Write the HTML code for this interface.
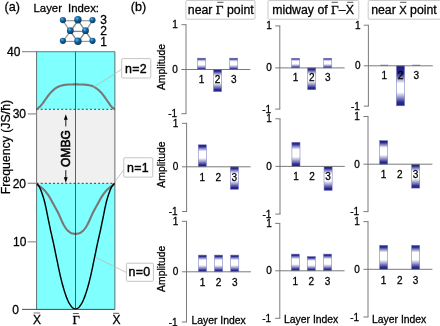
<!DOCTYPE html>
<html lang="en"><head><meta charset="utf-8"><title>Figure</title>
<style>html,body{margin:0;padding:0;background:#fff;}svg{display:block;}text{stroke:#000;stroke-width:0.28px;}</style></head><body>
<svg width="440" height="326" viewBox="0 0 440 326">
<defs>
<linearGradient id="bar" x1="0" y1="0" x2="0" y2="1"><stop offset="0" stop-color="#1c1c84"/><stop offset="0.08" stop-color="#2a2a90"/><stop offset="0.19" stop-color="#9898cc"/><stop offset="0.30" stop-color="#ffffff"/><stop offset="0.60" stop-color="#ffffff"/><stop offset="0.76" stop-color="#9898cc"/><stop offset="0.91" stop-color="#2a2a90"/><stop offset="1" stop-color="#1c1c84"/></linearGradient>
<linearGradient id="barS" x1="0" y1="0" x2="0" y2="1"><stop offset="0" stop-color="#24248a"/><stop offset="0.08" stop-color="#3a3a98"/><stop offset="0.2" stop-color="#c0c0e0"/><stop offset="0.32" stop-color="#ffffff"/><stop offset="0.58" stop-color="#ffffff"/><stop offset="0.8" stop-color="#8c8cc6"/><stop offset="0.94" stop-color="#2a2a90"/><stop offset="1" stop-color="#1c1c84"/></linearGradient>
<linearGradient id="barM" x1="0" y1="0" x2="0" y2="1"><stop offset="0" stop-color="#1c1c84"/><stop offset="0.1" stop-color="#2a2a90"/><stop offset="0.22" stop-color="#9898cc"/><stop offset="0.35" stop-color="#ffffff"/><stop offset="0.6" stop-color="#ffffff"/><stop offset="0.76" stop-color="#9898cc"/><stop offset="0.91" stop-color="#2a2a90"/><stop offset="1" stop-color="#1c1c84"/></linearGradient>
<linearGradient id="barT" x1="0" y1="0" x2="0" y2="1"><stop offset="0" stop-color="#1c1c84"/><stop offset="0.19" stop-color="#28288e"/><stop offset="0.32" stop-color="#9494ca"/><stop offset="0.44" stop-color="#ffffff"/><stop offset="0.66" stop-color="#ffffff"/><stop offset="0.79" stop-color="#9494ca"/><stop offset="0.91" stop-color="#2a2a90"/><stop offset="1" stop-color="#1c1c84"/></linearGradient>
<radialGradient id="atom" cx="0.38" cy="0.32" r="0.7"><stop offset="0" stop-color="#62b4e4"/><stop offset="0.4" stop-color="#1568a3"/><stop offset="1" stop-color="#06365f"/></radialGradient>
<clipPath id="pclip"><rect x="36.6" y="51.7" width="78.30000000000001" height="257.7"/></clipPath>
</defs>
<rect width="440" height="326" fill="#fff"/>
<rect x="36.6" y="51.7" width="78.30000000000001" height="57.599999999999994" fill="#80ffff"/>
<rect x="36.6" y="109.3" width="78.30000000000001" height="74.00000000000001" fill="#f0f0f0"/>
<rect x="36.6" y="183.3" width="78.30000000000001" height="126.09999999999997" fill="#80ffff"/>
<line x1="36.6" y1="109.3" x2="114.9" y2="109.3" stroke="#111" stroke-width="0.8" stroke-dasharray="2.0 2.1"/>
<line x1="36.6" y1="183.3" x2="114.9" y2="183.3" stroke="#111" stroke-width="0.8" stroke-dasharray="2.0 2.1"/>
<path d="M36.30,109.30 L36.96,108.93 L37.63,108.49 L38.29,108.00 L38.96,107.47 L39.62,106.89 L40.29,106.23 L40.95,105.50 L41.62,104.70 L42.28,103.88 L42.94,103.02 L43.61,102.11 L44.27,101.15 L44.94,100.19 L45.60,99.26 L46.27,98.33 L46.93,97.39 L47.59,96.46 L48.26,95.56 L48.92,94.70 L49.59,93.90 L50.25,93.14 L50.92,92.40 L51.58,91.70 L52.25,91.03 L52.91,90.41 L53.57,89.84 L54.24,89.29 L54.90,88.77 L55.57,88.28 L56.23,87.83 L56.90,87.42 L57.56,87.07 L58.23,86.76 L58.89,86.48 L59.55,86.22 L60.22,85.98 L60.88,85.77 L61.55,85.59 L62.21,85.42 L62.88,85.26 L63.54,85.12 L64.21,84.99 L64.87,84.88 L65.53,84.80 L66.20,84.73 L66.86,84.66 L67.53,84.61 L68.19,84.56 L68.86,84.52 L69.52,84.50 L70.18,84.48 L70.85,84.46 L71.51,84.45 L72.18,84.43 L72.84,84.42 L73.51,84.41 L74.17,84.41 L74.84,84.40 L75.50,84.40 L76.17,84.40 L76.84,84.41 L77.50,84.41 L78.17,84.42 L78.84,84.44 L79.51,84.45 L80.17,84.47 L80.84,84.48 L81.51,84.50 L82.18,84.52 L82.85,84.55 L83.51,84.58 L84.18,84.61 L84.85,84.65 L85.52,84.70 L86.18,84.76 L86.85,84.84 L87.52,84.94 L88.19,85.05 L88.86,85.17 L89.52,85.30 L90.19,85.46 L90.86,85.64 L91.53,85.84 L92.19,86.08 L92.86,86.33 L93.53,86.61 L94.20,86.94 L94.87,87.32 L95.53,87.75 L96.20,88.22 L96.87,88.72 L97.54,89.23 L98.21,89.77 L98.87,90.35 L99.54,90.98 L100.21,91.64 L100.88,92.33 L101.54,93.05 L102.21,93.82 L102.88,94.65 L103.55,95.52 L104.22,96.42 L104.88,97.35 L105.55,98.27 L106.22,99.23 L106.89,100.22 L107.55,101.23 L108.22,102.21 L108.89,103.15 L109.56,104.12 L110.23,105.06 L110.89,105.93 L111.56,106.66 L112.23,107.31 L112.90,107.91 L113.56,108.45 L114.23,108.91 L114.90,109.30" fill="none" stroke="#7a7676" stroke-width="2.1" stroke-linejoin="round" clip-path="url(#pclip)"/>
<path d="M36.30,183.50 L36.79,184.03 L37.28,184.52 L37.77,184.96 L38.26,185.33 L38.75,185.67 L39.24,186.01 L39.73,186.37 L40.22,186.73 L40.71,187.09 L41.20,187.46 L41.69,187.83 L42.18,188.22 L42.67,188.63 L43.16,189.07 L43.65,189.54 L44.14,190.03 L44.63,190.55 L45.12,191.10 L45.61,191.67 L46.10,192.27 L46.59,192.89 L47.08,193.52 L47.57,194.18 L48.06,194.86 L48.55,195.56 L49.04,196.31 L49.53,197.10 L50.02,197.93 L50.51,198.79 L51.00,199.68 L51.49,200.57 L51.98,201.48 L52.47,202.38 L52.96,203.28 L53.45,204.17 L53.94,205.05 L54.43,205.93 L54.92,206.81 L55.41,207.70 L55.90,208.59 L56.39,209.50 L56.88,210.42 L57.37,211.36 L57.86,212.32 L58.35,213.30 L58.84,214.32 L59.33,215.40 L59.82,216.50 L60.31,217.63 L60.80,218.76 L61.29,219.86 L61.78,220.93 L62.27,221.95 L62.76,222.96 L63.25,223.96 L63.74,224.92 L64.23,225.80 L64.72,226.58 L65.21,227.31 L65.70,228.02 L66.19,228.69 L66.68,229.31 L67.17,229.90 L67.66,230.42 L68.15,230.89 L68.64,231.29 L69.13,231.68 L69.62,232.05 L70.11,232.40 L70.60,232.71 L71.09,232.98 L71.58,233.20 L72.07,233.37 L72.56,233.48 L73.05,233.59 L73.54,233.69 L74.03,233.78 L74.52,233.84 L75.01,233.89 L75.50,233.90 L75.99,233.89 L76.48,233.84 L76.97,233.78 L77.46,233.69 L77.95,233.59 L78.44,233.48 L78.93,233.37 L79.42,233.20 L79.91,232.98 L80.40,232.71 L80.89,232.40 L81.38,232.05 L81.87,231.68 L82.36,231.29 L82.85,230.89 L83.34,230.42 L83.83,229.90 L84.32,229.31 L84.81,228.69 L85.30,228.02 L85.79,227.31 L86.28,226.58 L86.77,225.80 L87.26,224.92 L87.75,223.96 L88.24,222.96 L88.73,221.95 L89.22,220.93 L89.71,219.86 L90.20,218.76 L90.69,217.63 L91.18,216.50 L91.67,215.40 L92.16,214.32 L92.65,213.30 L93.14,212.32 L93.63,211.36 L94.12,210.42 L94.61,209.50 L95.10,208.59 L95.59,207.70 L96.08,206.81 L96.57,205.93 L97.06,205.05 L97.55,204.17 L98.04,203.28 L98.53,202.38 L99.02,201.48 L99.51,200.57 L100.00,199.68 L100.49,198.79 L100.98,197.93 L101.47,197.10 L101.96,196.31 L102.45,195.56 L102.94,194.86 L103.43,194.18 L103.92,193.52 L104.41,192.89 L104.90,192.27 L105.39,191.67 L105.88,191.10 L106.37,190.55 L106.86,190.03 L107.35,189.54 L107.84,189.07 L108.33,188.63 L108.82,188.22 L109.31,187.83 L109.80,187.46 L110.29,187.09 L110.78,186.73 L111.27,186.37 L111.76,186.01 L112.25,185.67 L112.74,185.33 L113.23,184.96 L113.72,184.52 L114.21,184.03 L114.70,183.50" fill="none" stroke="#7a7676" stroke-width="2.1" stroke-linejoin="round" clip-path="url(#pclip)"/>
<path d="M36.30,183.36 L36.79,183.76 L37.28,184.27 L37.77,184.81 L38.26,185.33 L38.75,185.95 L39.24,186.66 L39.73,187.57 L40.22,188.67 L40.71,189.86 L41.20,191.11 L41.69,192.43 L42.18,193.83 L42.67,195.29 L43.16,196.81 L43.65,198.39 L44.14,200.03 L44.63,201.84 L45.12,204.02 L45.61,206.23 L46.10,208.45 L46.59,210.80 L47.08,213.30 L47.57,215.80 L48.06,218.25 L48.55,220.60 L49.04,222.96 L49.53,225.31 L50.02,227.67 L50.51,230.03 L51.00,232.29 L51.49,234.44 L51.98,236.60 L52.47,238.77 L52.96,240.95 L53.45,243.13 L53.94,245.30 L54.43,247.75 L54.92,250.21 L55.41,252.63 L55.90,255.02 L56.39,257.37 L56.88,259.69 L57.37,261.97 L57.86,264.38 L58.35,266.80 L58.84,269.15 L59.33,271.43 L59.82,273.65 L60.31,275.80 L60.80,277.88 L61.29,279.90 L61.78,281.85 L62.27,283.73 L62.76,285.55 L63.25,287.30 L63.74,288.98 L64.23,290.59 L64.72,292.14 L65.21,293.62 L65.70,295.04 L66.19,296.38 L66.68,297.66 L67.17,298.87 L67.66,300.01 L68.15,301.08 L68.64,302.08 L69.13,303.02 L69.62,303.89 L70.11,304.68 L70.60,305.41 L71.09,306.07 L71.58,306.67 L72.07,307.19 L72.56,307.64 L73.05,308.03 L73.54,308.34 L74.03,308.59 L74.52,308.76 L75.01,308.86 L75.50,308.90 L75.99,308.86 L76.48,308.76 L76.97,308.59 L77.46,308.34 L77.95,308.03 L78.44,307.64 L78.93,307.19 L79.42,306.67 L79.91,306.07 L80.40,305.41 L80.89,304.68 L81.38,303.89 L81.87,303.02 L82.36,302.08 L82.85,301.08 L83.34,300.01 L83.83,298.87 L84.32,297.66 L84.81,296.38 L85.30,295.04 L85.79,293.62 L86.28,292.14 L86.77,290.59 L87.26,288.98 L87.75,287.30 L88.24,285.55 L88.73,283.73 L89.22,281.85 L89.71,279.90 L90.20,277.88 L90.69,275.80 L91.18,273.65 L91.67,271.43 L92.16,269.15 L92.65,266.80 L93.14,264.38 L93.63,261.97 L94.12,259.69 L94.61,257.37 L95.10,255.02 L95.59,252.63 L96.08,250.21 L96.57,247.75 L97.06,245.30 L97.55,243.13 L98.04,240.95 L98.53,238.77 L99.02,236.60 L99.51,234.44 L100.00,232.29 L100.49,230.03 L100.98,227.67 L101.47,225.31 L101.96,222.96 L102.45,220.60 L102.94,218.25 L103.43,215.80 L103.92,213.30 L104.41,210.80 L104.90,208.45 L105.39,206.23 L105.88,204.02 L106.37,201.84 L106.86,200.03 L107.35,198.39 L107.84,196.81 L108.33,195.29 L108.82,193.83 L109.31,192.43 L109.80,191.11 L110.29,189.86 L110.78,188.67 L111.27,187.57 L111.76,186.66 L112.25,185.95 L112.74,185.33 L113.23,184.81 L113.72,184.27 L114.21,183.76 L114.70,183.36" fill="none" stroke="#000" stroke-width="1.45" stroke-linejoin="round" clip-path="url(#pclip)"/>
<line x1="36.6" y1="51.7" x2="36.6" y2="309.4" stroke="#333" stroke-width="0.7" />
<line x1="114.9" y1="51.7" x2="114.9" y2="309.4" stroke="#333" stroke-width="0.7" />
<line x1="75.5" y1="51.7" x2="75.5" y2="309.4" stroke="#222" stroke-width="0.7" />
<line x1="22" y1="51.7" x2="114.9" y2="51.7" stroke="#444" stroke-width="0.7" />
<line x1="22" y1="309.4" x2="114.9" y2="309.4" stroke="#222" stroke-width="0.8" />
<line x1="27.7" y1="113.9" x2="36.6" y2="113.9" stroke="#969696" stroke-width="1.3" />
<line x1="27.7" y1="183.3" x2="36.6" y2="183.3" stroke="#969696" stroke-width="1.3" />
<line x1="27.7" y1="241.8" x2="36.6" y2="241.8" stroke="#969696" stroke-width="1.3" />
<text x="20.4" y="56.0" font-size="12" text-anchor="end" fill="#000" font-family='"Liberation Sans", sans-serif' >40</text>
<text x="26.0" y="117.8" font-size="12" text-anchor="end" fill="#000" font-family='"Liberation Sans", sans-serif' >30</text>
<text x="26.0" y="187.5" font-size="12" text-anchor="end" fill="#000" font-family='"Liberation Sans", sans-serif' >20</text>
<text x="26.4" y="246.0" font-size="12" text-anchor="end" fill="#000" font-family='"Liberation Sans", sans-serif' >10</text>
<text x="19.0" y="313.6" font-size="12" text-anchor="end" fill="#000" font-family='"Liberation Sans", sans-serif' >0</text>
<text x="9.9" y="147.1" font-size="12.3" text-anchor="middle" fill="#000" font-family='"Liberation Sans", sans-serif' transform="rotate(-90 9.9 147.1)" >Frequency (JS/ħ)</text>
<text x="37.0" y="324.2" font-size="12" text-anchor="middle" fill="#000" font-family='"Liberation Sans", sans-serif' >X</text>
<line x1="33.6" y1="313.0" x2="40.2" y2="313.0" stroke="#666" stroke-width="0.9" />
<text x="116.4" y="324.2" font-size="12" text-anchor="middle" fill="#000" font-family='"Liberation Sans", sans-serif' >X</text>
<line x1="113.2" y1="313.3" x2="119.2" y2="313.3" stroke="#444" stroke-width="0.9" />
<text x="76.3" y="324.0" font-size="12.8" text-anchor="middle" fill="#000" font-family='"Liberation Serif", serif' >Γ</text>
<line x1="72.9" y1="313.5" x2="78.8" y2="313.5" stroke="#444" stroke-width="0.9" />
<text x="69.8" y="148.6" font-size="12.3" text-anchor="middle" fill="#000" font-family='"Liberation Sans", sans-serif' transform="rotate(-90 69.8 148.6)" textLength="36.8" lengthAdjust="spacingAndGlyphs" style="stroke-width:0.6px">OMBG</text>
<line x1="65.8" y1="126.4" x2="65.8" y2="118.5" stroke="#000" stroke-width="0.9" />
<polygon points="65.8,114.2 63.9,119.8 67.7,119.8" fill="#000"/>
<line x1="65.8" y1="170.2" x2="65.8" y2="178.5" stroke="#000" stroke-width="0.9" />
<polygon points="65.8,182.8 63.9,177.2 67.7,177.2" fill="#000"/>
<text x="4.5" y="10.6" font-size="12.6" text-anchor="start" fill="#000" font-family='"Liberation Sans", sans-serif' >(a)</text>
<text x="33.5" y="11.9" font-size="11.4" text-anchor="start" fill="#000" font-family='"Liberation Sans", sans-serif' >Layer</text>
<text x="68.0" y="11.9" font-size="11.4" text-anchor="start" fill="#000" font-family='"Liberation Sans", sans-serif' >Index:</text>
<text x="100.2" y="24.0" font-size="12" text-anchor="start" fill="#000" font-family='"Liberation Sans", sans-serif' >3</text>
<text x="100.2" y="35.1" font-size="12" text-anchor="start" fill="#000" font-family='"Liberation Sans", sans-serif' >2</text>
<text x="100.2" y="46.3" font-size="12" text-anchor="start" fill="#000" font-family='"Liberation Sans", sans-serif' >1</text>
<line x1="62.9" y1="20.700000000000003" x2="92.5" y2="20.700000000000003" stroke="#989898" stroke-width="1.2" />
<line x1="62.9" y1="41.4" x2="92.5" y2="41.4" stroke="#989898" stroke-width="1.2" />
<line x1="70.3" y1="31.3" x2="85.5" y2="31.3" stroke="#989898" stroke-width="1.2" />
<line x1="62.9" y1="20.700000000000003" x2="70.3" y2="31.3" stroke="#989898" stroke-width="1.2" />
<line x1="70.3" y1="31.3" x2="62.9" y2="41.4" stroke="#989898" stroke-width="1.2" />
<line x1="77.9" y1="20.3" x2="70.3" y2="31.3" stroke="#989898" stroke-width="1.2" />
<line x1="77.9" y1="20.3" x2="85.5" y2="31.3" stroke="#989898" stroke-width="1.2" />
<line x1="70.3" y1="31.3" x2="77.9" y2="41.9" stroke="#989898" stroke-width="1.2" />
<line x1="85.5" y1="31.3" x2="77.9" y2="41.9" stroke="#989898" stroke-width="1.2" />
<line x1="92.5" y1="20.700000000000003" x2="85.5" y2="31.3" stroke="#989898" stroke-width="1.2" />
<line x1="85.5" y1="31.3" x2="92.5" y2="41.4" stroke="#989898" stroke-width="1.2" />
<line x1="78.4" y1="20.599999999999998" x2="70.8" y2="31.599999999999998" stroke="#6a6a6a" stroke-width="0.6" />
<line x1="78.4" y1="20.599999999999998" x2="86.0" y2="31.599999999999998" stroke="#6a6a6a" stroke-width="0.6" />
<line x1="70.8" y1="31.599999999999998" x2="78.4" y2="42.199999999999996" stroke="#6a6a6a" stroke-width="0.6" />
<line x1="86.0" y1="31.599999999999998" x2="78.4" y2="42.199999999999996" stroke="#6a6a6a" stroke-width="0.6" />
<line x1="70.8" y1="31.599999999999998" x2="86.0" y2="31.599999999999998" stroke="#6a6a6a" stroke-width="0.6" />
<line x1="86.0" y1="31.599999999999998" x2="93.0" y2="41.699999999999996" stroke="#6a6a6a" stroke-width="0.6" />
<circle cx="62.9" cy="20.1" r="3.1" fill="url(#atom)"/>
<circle cx="77.9" cy="19.7" r="3.7" fill="url(#atom)"/>
<circle cx="92.5" cy="20.1" r="3.1" fill="url(#atom)"/>
<circle cx="70.3" cy="30.7" r="3.4" fill="url(#atom)"/>
<circle cx="85.5" cy="30.7" r="3.4" fill="url(#atom)"/>
<circle cx="62.9" cy="40.8" r="3.1" fill="url(#atom)"/>
<circle cx="77.9" cy="41.3" r="3.7" fill="url(#atom)"/>
<circle cx="92.5" cy="40.8" r="3.1" fill="url(#atom)"/>
<line x1="121.7" y1="69.3" x2="93.6" y2="87.2" stroke="#b8b8b8" stroke-width="0.8" />
<rect x="121.7" y="58.6" width="29.10000000000001" height="19.4" rx="1" fill="#fff" stroke="#bdbdbd" stroke-width="0.9"/>
<text x="135.95" y="72.5" font-size="12.4" text-anchor="middle" fill="#000" font-family='"Liberation Sans", sans-serif' letter-spacing="0.35" style="stroke-width:0.4px">n=2</text>
<line x1="123.8" y1="169.8" x2="115.0" y2="181.6" stroke="#b8b8b8" stroke-width="0.8" />
<rect x="123.8" y="157.8" width="29.000000000000014" height="19.299999999999983" rx="1" fill="#fff" stroke="#bdbdbd" stroke-width="0.9"/>
<text x="138.0" y="171.64999999999998" font-size="12.4" text-anchor="middle" fill="#000" font-family='"Liberation Sans", sans-serif' letter-spacing="0.35" style="stroke-width:0.4px">n=1</text>
<line x1="126.4" y1="272.5" x2="95.4" y2="257.4" stroke="#b8b8b8" stroke-width="0.8" />
<rect x="126.4" y="263.2" width="27.0" height="18.100000000000023" rx="1" fill="#fff" stroke="#bdbdbd" stroke-width="0.9"/>
<text x="139.6" y="276.45" font-size="12.4" text-anchor="middle" fill="#000" font-family='"Liberation Sans", sans-serif' letter-spacing="0.35" style="stroke-width:0.4px">n=0</text>
<text x="130.8" y="10.6" font-size="12.6" text-anchor="start" fill="#000" font-family='"Liberation Sans", sans-serif' >(b)</text>
<rect x="185.9" y="0.5" width="69.1" height="18.7" rx="1.2" fill="#fff" stroke="#c2c2c2" stroke-width="0.9"/>
<rect x="268.0" y="0.5" width="90.80000000000001" height="18.7" rx="1.2" fill="#fff" stroke="#c2c2c2" stroke-width="0.9"/>
<rect x="368.2" y="0.5" width="72.40000000000003" height="18.7" rx="1.2" fill="#fff" stroke="#c2c2c2" stroke-width="0.9"/>
<text x="187.8" y="14.1" font-size="12.3" font-family='"Liberation Sans", sans-serif' fill="#000">near <tspan font-family='"Liberation Serif", serif' font-size="13.4">Γ</tspan> point</text>
<text x="272.3" y="14.1" font-size="12.3" font-family='"Liberation Sans", sans-serif' fill="#000">midway of <tspan font-family='"Liberation Serif", serif' font-size="13.4">Γ</tspan>–X</text>
<text x="371.2" y="14.1" font-size="12.3" font-family='"Liberation Sans", sans-serif' fill="#000">near <tspan font-size="11.2">X</tspan> point</text>
<line x1="217.3" y1="2.3" x2="223.5" y2="2.3" stroke="#444" stroke-width="0.9" />
<line x1="331.6" y1="2.3" x2="337.9" y2="2.3" stroke="#444" stroke-width="0.9" />
<line x1="347.1" y1="2.3" x2="353.4" y2="2.3" stroke="#444" stroke-width="0.9" />
<line x1="400.1" y1="2.3" x2="406.4" y2="2.3" stroke="#444" stroke-width="0.9" />
<rect x="197.45" y="58.2" width="8.1" height="11.299999999999997" fill="url(#barS)" stroke="#7878c0" stroke-width="0.55"/>
<rect x="213.54999999999998" y="69.5" width="8.1" height="22.099999999999994" fill="url(#bar)" stroke="#7878c0" stroke-width="0.55"/>
<rect x="229.64999999999998" y="58.2" width="8.1" height="11.299999999999997" fill="url(#barS)" stroke="#7878c0" stroke-width="0.55"/>
<line x1="186.0" y1="24.7" x2="186.0" y2="113.7" stroke="#6c6c6c" stroke-width="0.9" />
<line x1="181.4" y1="24.7" x2="186.45" y2="24.7" stroke="#6c6c6c" stroke-width="0.9" />
<line x1="181.4" y1="113.7" x2="186.45" y2="113.7" stroke="#6c6c6c" stroke-width="0.9" />
<line x1="181.4" y1="69.5" x2="250.4" y2="69.5" stroke="#6c6c6c" stroke-width="0.9" />
<text x="177.7" y="28.2" font-size="10" text-anchor="end" fill="#000" font-family='"Liberation Sans", sans-serif' >1</text>
<text x="177.7" y="73.0" font-size="10" text-anchor="end" fill="#000" font-family='"Liberation Sans", sans-serif' >0</text>
<text x="177.1" y="117.2" font-size="10" text-anchor="end" fill="#000" font-family='"Liberation Sans", sans-serif' >-1</text>
<text x="201.5" y="82.9" font-size="10" text-anchor="middle" fill="#000" font-family='"Liberation Sans", sans-serif' >1</text>
<text x="217.6" y="82.9" font-size="10" text-anchor="middle" fill="#000" font-family='"Liberation Sans", sans-serif' >2</text>
<text x="233.7" y="82.9" font-size="10" text-anchor="middle" fill="#000" font-family='"Liberation Sans", sans-serif' >3</text>
<text x="165.0" y="67.0" font-size="10.4" text-anchor="middle" fill="#000" font-family='"Liberation Sans", sans-serif' transform="rotate(-90 165.0 67.0)" >Amplitude</text>
<rect x="198.25" y="144.8" width="8.1" height="22.0" fill="url(#bar)" stroke="#7878c0" stroke-width="0.55"/>
<rect x="230.35" y="166.8" width="8.1" height="22.5" fill="url(#bar)" stroke="#7878c0" stroke-width="0.55"/>
<line x1="186.6" y1="123.3" x2="186.6" y2="211.5" stroke="#6c6c6c" stroke-width="0.9" />
<line x1="182.0" y1="123.3" x2="187.04999999999998" y2="123.3" stroke="#6c6c6c" stroke-width="0.9" />
<line x1="182.0" y1="211.5" x2="187.04999999999998" y2="211.5" stroke="#6c6c6c" stroke-width="0.9" />
<line x1="182.0" y1="166.8" x2="250.6" y2="166.8" stroke="#6c6c6c" stroke-width="0.9" />
<text x="178.3" y="126.8" font-size="10" text-anchor="end" fill="#000" font-family='"Liberation Sans", sans-serif' >1</text>
<text x="178.3" y="170.3" font-size="10" text-anchor="end" fill="#000" font-family='"Liberation Sans", sans-serif' >0</text>
<text x="177.70000000000002" y="215.0" font-size="10" text-anchor="end" fill="#000" font-family='"Liberation Sans", sans-serif' >-1</text>
<text x="202.3" y="180.70000000000002" font-size="10" text-anchor="middle" fill="#000" font-family='"Liberation Sans", sans-serif' >1</text>
<text x="218.35" y="180.70000000000002" font-size="10" text-anchor="middle" fill="#000" font-family='"Liberation Sans", sans-serif' >2</text>
<text x="234.4" y="180.70000000000002" font-size="10" text-anchor="middle" fill="#000" font-family='"Liberation Sans", sans-serif' >3</text>
<text x="165.0" y="164.6" font-size="10.4" text-anchor="middle" fill="#000" font-family='"Liberation Sans", sans-serif' transform="rotate(-90 165.0 164.6)" >Amplitude</text>
<rect x="198.39999999999998" y="255.1" width="8.1" height="16.700000000000017" fill="url(#bar)" stroke="#7878c0" stroke-width="0.55"/>
<rect x="214.54999999999998" y="255.1" width="8.1" height="16.700000000000017" fill="url(#bar)" stroke="#7878c0" stroke-width="0.55"/>
<rect x="230.7" y="255.1" width="8.1" height="16.700000000000017" fill="url(#bar)" stroke="#7878c0" stroke-width="0.55"/>
<line x1="186.5" y1="221.3" x2="186.5" y2="322.0" stroke="#6c6c6c" stroke-width="0.9" />
<line x1="181.9" y1="221.3" x2="186.95" y2="221.3" stroke="#6c6c6c" stroke-width="0.9" />
<line x1="181.9" y1="322.0" x2="186.95" y2="322.0" stroke="#6c6c6c" stroke-width="0.9" />
<line x1="181.9" y1="271.8" x2="250.9" y2="271.8" stroke="#6c6c6c" stroke-width="0.9" />
<text x="178.3" y="224.8" font-size="10" text-anchor="end" fill="#000" font-family='"Liberation Sans", sans-serif' >1</text>
<text x="178.3" y="275.3" font-size="10" text-anchor="end" fill="#000" font-family='"Liberation Sans", sans-serif' >0</text>
<text x="177.70000000000002" y="325.5" font-size="10" text-anchor="end" fill="#000" font-family='"Liberation Sans", sans-serif' >-1</text>
<text x="202.45" y="286.1" font-size="10" text-anchor="middle" fill="#000" font-family='"Liberation Sans", sans-serif' >1</text>
<text x="218.6" y="286.1" font-size="10" text-anchor="middle" fill="#000" font-family='"Liberation Sans", sans-serif' >2</text>
<text x="234.75" y="286.1" font-size="10" text-anchor="middle" fill="#000" font-family='"Liberation Sans", sans-serif' >3</text>
<text x="165.0" y="268.8" font-size="10.4" text-anchor="middle" fill="#000" font-family='"Liberation Sans", sans-serif' transform="rotate(-90 165.0 268.8)" >Amplitude</text>
<text x="191.4" y="324.0" font-size="10.4" text-anchor="start" fill="#000" font-family='"Liberation Sans", sans-serif' >Layer Index</text>
<rect x="291.59999999999997" y="58.3" width="8.1" height="9.600000000000009" fill="url(#barS)" stroke="#7878c0" stroke-width="0.55"/>
<rect x="307.65" y="67.9" width="8.1" height="21.799999999999997" fill="url(#bar)" stroke="#7878c0" stroke-width="0.55"/>
<rect x="323.65" y="58.3" width="8.1" height="9.600000000000009" fill="url(#barS)" stroke="#7878c0" stroke-width="0.55"/>
<line x1="279.8" y1="25.9" x2="279.8" y2="109.1" stroke="#6c6c6c" stroke-width="0.9" />
<line x1="275.2" y1="25.9" x2="280.25" y2="25.9" stroke="#6c6c6c" stroke-width="0.9" />
<line x1="275.2" y1="109.1" x2="280.25" y2="109.1" stroke="#6c6c6c" stroke-width="0.9" />
<line x1="275.2" y1="67.9" x2="344.6" y2="67.9" stroke="#6c6c6c" stroke-width="0.9" />
<text x="271.7" y="29.4" font-size="10" text-anchor="end" fill="#000" font-family='"Liberation Sans", sans-serif' >1</text>
<text x="271.7" y="71.4" font-size="10" text-anchor="end" fill="#000" font-family='"Liberation Sans", sans-serif' >0</text>
<text x="271.09999999999997" y="112.6" font-size="10" text-anchor="end" fill="#000" font-family='"Liberation Sans", sans-serif' >-1</text>
<text x="295.65" y="81.30000000000001" font-size="10" text-anchor="middle" fill="#000" font-family='"Liberation Sans", sans-serif' >1</text>
<text x="311.7" y="81.30000000000001" font-size="10" text-anchor="middle" fill="#000" font-family='"Liberation Sans", sans-serif' >2</text>
<text x="327.7" y="81.30000000000001" font-size="10" text-anchor="middle" fill="#000" font-family='"Liberation Sans", sans-serif' >3</text>
<rect x="291.9" y="142.3" width="8.1" height="24.099999999999994" fill="url(#bar)" stroke="#7878c0" stroke-width="0.55"/>
<rect x="324.05" y="166.4" width="8.1" height="24.0" fill="url(#bar)" stroke="#7878c0" stroke-width="0.55"/>
<line x1="280.0" y1="118.8" x2="280.0" y2="214.1" stroke="#6c6c6c" stroke-width="0.9" />
<line x1="275.4" y1="118.8" x2="280.45" y2="118.8" stroke="#6c6c6c" stroke-width="0.9" />
<line x1="275.4" y1="214.1" x2="280.45" y2="214.1" stroke="#6c6c6c" stroke-width="0.9" />
<line x1="275.4" y1="166.4" x2="344.8" y2="166.4" stroke="#6c6c6c" stroke-width="0.9" />
<text x="271.9" y="122.3" font-size="10" text-anchor="end" fill="#000" font-family='"Liberation Sans", sans-serif' >1</text>
<text x="271.9" y="169.9" font-size="10" text-anchor="end" fill="#000" font-family='"Liberation Sans", sans-serif' >0</text>
<text x="271.29999999999995" y="217.6" font-size="10" text-anchor="end" fill="#000" font-family='"Liberation Sans", sans-serif' >-1</text>
<text x="295.95" y="180.3" font-size="10" text-anchor="middle" fill="#000" font-family='"Liberation Sans", sans-serif' >1</text>
<text x="312.0" y="180.3" font-size="10" text-anchor="middle" fill="#000" font-family='"Liberation Sans", sans-serif' >2</text>
<text x="328.1" y="180.3" font-size="10" text-anchor="middle" fill="#000" font-family='"Liberation Sans", sans-serif' >3</text>
<rect x="291.25" y="254.1" width="8.1" height="16.700000000000017" fill="url(#bar)" stroke="#7878c0" stroke-width="0.55"/>
<rect x="307.25" y="256.6" width="8.1" height="14.199999999999989" fill="url(#bar)" stroke="#7878c0" stroke-width="0.55"/>
<rect x="323.55" y="254.1" width="8.1" height="16.700000000000017" fill="url(#bar)" stroke="#7878c0" stroke-width="0.55"/>
<line x1="279.8" y1="223.4" x2="279.8" y2="318.3" stroke="#6c6c6c" stroke-width="0.9" />
<line x1="275.2" y1="223.4" x2="280.25" y2="223.4" stroke="#6c6c6c" stroke-width="0.9" />
<line x1="275.2" y1="318.3" x2="280.25" y2="318.3" stroke="#6c6c6c" stroke-width="0.9" />
<line x1="275.2" y1="270.8" x2="344.6" y2="270.8" stroke="#6c6c6c" stroke-width="0.9" />
<text x="271.7" y="226.9" font-size="10" text-anchor="end" fill="#000" font-family='"Liberation Sans", sans-serif' >1</text>
<text x="271.7" y="274.3" font-size="10" text-anchor="end" fill="#000" font-family='"Liberation Sans", sans-serif' >0</text>
<text x="271.09999999999997" y="321.8" font-size="10" text-anchor="end" fill="#000" font-family='"Liberation Sans", sans-serif' >-1</text>
<text x="295.3" y="285.1" font-size="10" text-anchor="middle" fill="#000" font-family='"Liberation Sans", sans-serif' >1</text>
<text x="311.3" y="285.1" font-size="10" text-anchor="middle" fill="#000" font-family='"Liberation Sans", sans-serif' >2</text>
<text x="327.6" y="285.1" font-size="10" text-anchor="middle" fill="#000" font-family='"Liberation Sans", sans-serif' >3</text>
<text x="284.0" y="322.8" font-size="10.4" text-anchor="start" fill="#000" font-family='"Liberation Sans", sans-serif' >Layer Index</text>
<rect x="380.2" y="64.8" width="8.1" height="0.9" fill="#5b5bb0"/>
<rect x="396.45" y="65.8" width="8.1" height="40.0" fill="url(#barT)" stroke="#7878c0" stroke-width="0.55"/>
<rect x="412.25" y="64.8" width="8.1" height="0.9" fill="#5b5bb0"/>
<line x1="368.4" y1="25.2" x2="368.4" y2="106.1" stroke="#6c6c6c" stroke-width="0.9" />
<line x1="363.79999999999995" y1="25.2" x2="368.84999999999997" y2="25.2" stroke="#6c6c6c" stroke-width="0.9" />
<line x1="363.79999999999995" y1="106.1" x2="368.84999999999997" y2="106.1" stroke="#6c6c6c" stroke-width="0.9" />
<line x1="363.79999999999995" y1="65.8" x2="432.8" y2="65.8" stroke="#6c6c6c" stroke-width="0.9" />
<text x="360.5" y="28.7" font-size="10" text-anchor="end" fill="#000" font-family='"Liberation Sans", sans-serif' >1</text>
<text x="360.5" y="69.3" font-size="10" text-anchor="end" fill="#000" font-family='"Liberation Sans", sans-serif' >0</text>
<text x="359.9" y="109.6" font-size="10" text-anchor="end" fill="#000" font-family='"Liberation Sans", sans-serif' >-1</text>
<text x="384.25" y="79.2" font-size="10" text-anchor="middle" fill="#000" font-family='"Liberation Sans", sans-serif' >1</text>
<text x="400.5" y="79.2" font-size="10" text-anchor="middle" fill="#000" font-family='"Liberation Sans", sans-serif' >2</text>
<text x="416.3" y="79.2" font-size="10" text-anchor="middle" fill="#000" font-family='"Liberation Sans", sans-serif' >3</text>
<rect x="379.59999999999997" y="140.6" width="8.1" height="23.599999999999994" fill="url(#bar)" stroke="#7878c0" stroke-width="0.55"/>
<rect x="411.59999999999997" y="164.2" width="8.1" height="23.900000000000006" fill="url(#bar)" stroke="#7878c0" stroke-width="0.55"/>
<line x1="368.0" y1="116.5" x2="368.0" y2="211.6" stroke="#6c6c6c" stroke-width="0.9" />
<line x1="363.4" y1="116.5" x2="368.45" y2="116.5" stroke="#6c6c6c" stroke-width="0.9" />
<line x1="363.4" y1="211.6" x2="368.45" y2="211.6" stroke="#6c6c6c" stroke-width="0.9" />
<line x1="363.4" y1="164.2" x2="432.4" y2="164.2" stroke="#6c6c6c" stroke-width="0.9" />
<text x="359.7" y="120.0" font-size="10" text-anchor="end" fill="#000" font-family='"Liberation Sans", sans-serif' >1</text>
<text x="359.7" y="167.7" font-size="10" text-anchor="end" fill="#000" font-family='"Liberation Sans", sans-serif' >0</text>
<text x="359.09999999999997" y="215.1" font-size="10" text-anchor="end" fill="#000" font-family='"Liberation Sans", sans-serif' >-1</text>
<text x="383.65" y="178.1" font-size="10" text-anchor="middle" fill="#000" font-family='"Liberation Sans", sans-serif' >1</text>
<text x="399.7" y="178.1" font-size="10" text-anchor="middle" fill="#000" font-family='"Liberation Sans", sans-serif' >2</text>
<text x="415.65" y="178.1" font-size="10" text-anchor="middle" fill="#000" font-family='"Liberation Sans", sans-serif' >3</text>
<rect x="379.59999999999997" y="245.3" width="8.1" height="24.0" fill="url(#bar)" stroke="#7878c0" stroke-width="0.55"/>
<rect x="411.59999999999997" y="245.3" width="8.1" height="24.0" fill="url(#bar)" stroke="#7878c0" stroke-width="0.55"/>
<line x1="368.0" y1="221.6" x2="368.0" y2="317.0" stroke="#6c6c6c" stroke-width="0.9" />
<line x1="363.4" y1="221.6" x2="368.45" y2="221.6" stroke="#6c6c6c" stroke-width="0.9" />
<line x1="363.4" y1="317.0" x2="368.45" y2="317.0" stroke="#6c6c6c" stroke-width="0.9" />
<line x1="363.4" y1="269.3" x2="432.4" y2="269.3" stroke="#6c6c6c" stroke-width="0.9" />
<text x="359.7" y="225.1" font-size="10" text-anchor="end" fill="#000" font-family='"Liberation Sans", sans-serif' >1</text>
<text x="359.7" y="272.8" font-size="10" text-anchor="end" fill="#000" font-family='"Liberation Sans", sans-serif' >0</text>
<text x="359.09999999999997" y="320.5" font-size="10" text-anchor="end" fill="#000" font-family='"Liberation Sans", sans-serif' >-1</text>
<text x="383.65" y="283.6" font-size="10" text-anchor="middle" fill="#000" font-family='"Liberation Sans", sans-serif' >1</text>
<text x="399.7" y="283.6" font-size="10" text-anchor="middle" fill="#000" font-family='"Liberation Sans", sans-serif' >2</text>
<text x="415.65" y="283.6" font-size="10" text-anchor="middle" fill="#000" font-family='"Liberation Sans", sans-serif' >3</text>
<text x="372.0" y="322.8" font-size="10.4" text-anchor="start" fill="#000" font-family='"Liberation Sans", sans-serif' >Layer Index</text>
</svg></body></html>
